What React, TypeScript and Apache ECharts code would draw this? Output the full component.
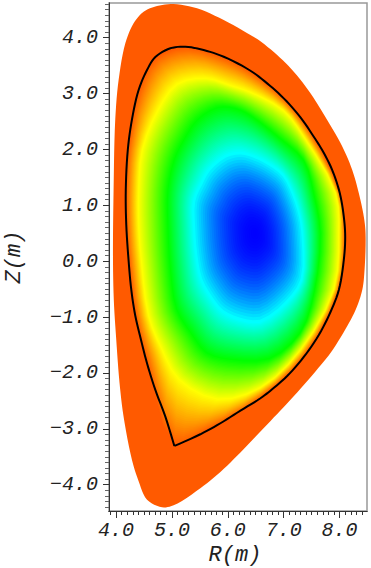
import React, { useEffect, useRef } from "react";
import * as echarts from "echarts";

const xMajor = [4, 5, 6, 7, 8];
const yMajor = [-4, -3, -2, -1, 0, 1, 2, 3, 4];
const xMin = 3.875, xMax = 8.49, yMin = -4.47, yMax = 4.62;

// Outer (orange) domain boundary
const outerBoundary = [
  [5.031,4.601],[4.734,4.565],[4.494,4.463],[4.315,4.256],[4.167,3.898],[4.047,3.242],[3.987,2.538],[3.957,1.274],[3.946,0.08],[3.961,-0.694],
  [4.005,-1.41],[4.064,-2.184],[4.136,-2.782],[4.286,-3.556],[4.405,-3.937],[4.555,-4.267],[4.824,-4.403],[5.031,-4.367],[5.509,-4.063],[5.868,-3.771],
  [6.226,-3.422],[6.584,-3.047],[6.942,-2.671],[7.241,-2.349],[7.568,-1.973],[7.837,-1.642],[8.106,-1.213],[8.285,-0.873],[8.405,-0.515],[8.446,-0.157],
  [8.464,0.499],[8.433,0.796],[8.344,1.215],[8.226,1.631],[8.052,2.043],[7.778,2.526],[7.479,3.004],[7.18,3.39],[6.883,3.689],[6.553,3.957],
  [6.405,4.047],[5.927,4.315],[5.45,4.524],
];

// Black separatrix, starting and ending on the X-point
const separatrix = [
  [5.044,-3.306],[4.883,-2.782],[4.704,-2.304],[4.555,-1.826],[4.448,-1.41],[4.346,-0.98],[4.274,-0.515],[4.226,0.004],[4.184,0.648],[4.175,1.274],
  [4.211,1.989],[4.286,2.538],[4.405,3.063],[4.555,3.42],[4.704,3.653],[4.972,3.809],[5.241,3.837],[5.568,3.778],[5.927,3.658],[6.405,3.408],
  [6.704,3.182],[7.001,2.914],[7.3,2.574],[7.538,2.227],[7.688,1.989],[7.868,1.631],[8.004,1.215],[8.075,0.796],[8.1,0.438],[8.075,0.021],
  [7.986,-0.515],[7.837,-0.909],[7.628,-1.32],[7.359,-1.714],[7.062,-2.054],[6.793,-2.292],[6.584,-2.453],[6.226,-2.674],[5.868,-2.9],[5.509,-3.097],[5.044,-3.306],
];

// Contour rings, with matching point order
const edgeRing = [[5.044,-3.306],[4.555,-1.826],[4.346,-0.98],[4.226,0.004],[4.184,0.648],[4.175,1.274],[4.211,1.989],[4.405,3.063],[4.704,3.653],[5.241,3.837],[5.927,3.658],[6.405,3.408],[7.001,2.914],[7.538,2.227],[8.004,1.215],[8.1,0.438],[7.986,-0.515],[7.359,-1.714],[6.584,-2.453],[5.509,-3.097]];
const yellowRing = [[5.12,-2.125],[4.8,-1.55],[4.578,-0.98],[4.448,0],[4.4,0.648],[4.4,1.274],[4.465,2.0],[4.75,2.72],[5.09,3.18],[5.6,3.28],[6.05,3.15],[6.405,3.03],[7.0,2.7],[7.36,2.23],[7.93,1.22],[7.99,0.5],[7.9,-0.5],[7.3,-1.59],[6.58,-2.27],[5.81,-2.48]];
const greenRing = [[5.62,-1.65],[5.33,-1.285],[5.08,-0.87],[4.97,-0.21],[4.92,0.65],[4.92,1.27],[5.03,1.81],[5.2,2.17],[5.45,2.54],[5.81,2.76],[6.14,2.74],[6.405,2.615],[6.94,2.2],[7.36,1.81],[7.54,1.22],[7.66,0.5],[7.55,-0.55],[7.3,-1.28],[6.75,-1.75],[6.05,-1.77]];
const cyanRing = [[5.9,-0.92],[5.7,-0.68],[5.51,-0.34],[5.42,0.1],[5.38,0.6],[5.38,1.09],[5.51,1.4],[5.65,1.65],[5.95,1.9],[6.22,1.96],[6.45,1.9],[6.72,1.77],[7.0,1.55],[7.17,1.215],[7.3,0.8],[7.35,0.4],[7.33,-0.34],[7.06,-0.75],[6.58,-1.1],[6.2,-1.06]];
const axisPoint = [6.49, 0.5];

const rings = [edgeRing, yellowRing, greenRing, cyanRing, edgeRing.map(() => axisPoint)];
const ringColors = [[255,90,0],[255,255,0],[0,255,0],[0,255,255],[0,0,255]];
const outerColor = "#ff5a00";
const stepsPerBand = 30; // drawing resolution of the colour shading only

const tickFont = { fontFamily: "'Liberation Mono', monospace", fontStyle: "italic" as const, fontSize: 20, color: "#222" };
const fmt = (v: number) => v.toFixed(1).replace("-", "\u2212");

function minorValues(min: number, max: number) {
  const out: number[] = [];
  for (let i = Math.ceil(min * 10); i <= max * 10; i++) if (i % 10 !== 0) out.push(i / 10);
  return out;
}

// Curve through pixel points (centripetal Catmull-Rom), closed or open
function curve(pts: number[][], closed: boolean, sub = 6) {
  const n = pts.length;
  const at = (i: number) => (closed ? pts[(i + n) % n] : pts[Math.max(0, Math.min(n - 1, i))]);
  const out: number[][] = [];
  const segs = closed ? n : n - 1;
  for (let i = 0; i < segs; i++) {
    const p0 = at(i - 1), p1 = at(i), p2 = at(i + 1), p3 = at(i + 2);
    const d = (a: number[], b: number[]) => Math.max(1e-3, Math.sqrt(Math.hypot(a[0] - b[0], a[1] - b[1])));
    const t0 = 0, t1 = t0 + d(p0, p1), t2 = t1 + d(p1, p2), t3 = t2 + d(p2, p3);
    for (let s = 0; s < sub; s++) {
      const t = t1 + ((t2 - t1) * s) / sub;
      const lerp = (a: number[], b: number[], ta: number, tb: number) =>
        [0, 1].map((k) => (a[k] * (tb - t) + b[k] * (t - ta)) / (tb - ta));
      const a1 = lerp(p0, p1, t0, t1), a2 = lerp(p1, p2, t1, t2), a3 = lerp(p2, p3, t2, t3);
      const b1 = lerp(a1, a2, t0, t2), b2 = lerp(a2, a3, t1, t3);
      out.push(lerp(b1, b2, t1, t2));
    }
  }
  if (!closed) out.push(pts[n - 1]);
  return out;
}

function renderField(_p: any, api: any) {
  const px = (pts: number[][]) => pts.map((p) => api.coord(p));
  const children: any[] = [
    { type: "polygon", shape: { points: curve(px(outerBoundary), true) }, style: { fill: outerColor } },
  ];
  for (let b = 0; b < rings.length - 1; b++) {
    for (let s = 0; s < stepsPerBand; s++) {
      const t = s / stepsPerBand;
      const ct = b === rings.length - 2 ? 1 - (1 - t) * (1 - t) : t;
      const pts = rings[b].map((p, i) => [p[0] + (rings[b + 1][i][0] - p[0]) * t, p[1] + (rings[b + 1][i][1] - p[1]) * t]);
      const c = ringColors[b].map((v, k) => Math.round(v + (ringColors[b + 1][k] - v) * ct));
      children.push({ type: "polygon", shape: { points: curve(px(pts), true, 3) }, style: { fill: `rgb(${c[0]},${c[1]},${c[2]})` } });
    }
  }
  children.push({ type: "polyline", shape: { points: curve(px(separatrix), false) }, style: { fill: "none", stroke: "#000", lineWidth: 2, lineJoin: "miter" } });
  return { type: "group", children };
}

export default function App() {
  const ref = useRef<HTMLDivElement>(null);
  useEffect(() => {
    const chart = echarts.init(ref.current!, undefined, { renderer: "svg" });
    const baseAxis = { axisLine: { show: true, onZero: false, lineStyle: { color: "#333", width: 1 } }, splitLine: { show: false } };
    chart.setOption({
      animation: false,
      backgroundColor: "#fff",
      grid: { left: 109, right: 4, top: 3, bottom: 57, outerBoundsMode: "none", containLabel: false, show: true, borderColor: "#999", borderWidth: 1.5, backgroundColor: "transparent" },
      xAxis: [
        {
          ...baseAxis, type: "value", min: xMin, max: xMax, position: "bottom",
          name: "R(m)", nameLocation: "middle", nameGap: 33, nameTextStyle: { ...tickFont, fontSize: 22, padding: [0, 6, 0, 0] },
          axisTick: { show: true, length: 7, customValues: xMajor, lineStyle: { color: "#333" } },
          axisLabel: { ...tickFont, margin: 9, customValues: xMajor, formatter: fmt },
        },
        {
          ...baseAxis, type: "value", min: xMin, max: xMax, position: "bottom",
          axisTick: { show: true, length: 4, customValues: minorValues(xMin, xMax), lineStyle: { color: "#333" } },
          axisLabel: { show: false },
        },
      ],
      yAxis: [
        {
          ...baseAxis, type: "value", min: yMin, max: yMax, position: "left",
          name: "Z(m)", nameLocation: "middle", nameGap: 84, nameTextStyle: { ...tickFont, fontSize: 22 },
          axisTick: { show: true, length: 6, customValues: yMajor, lineStyle: { color: "#333" } },
          axisLabel: { ...tickFont, margin: 11, customValues: yMajor, formatter: fmt },
        },
        {
          ...baseAxis, type: "value", min: yMin, max: yMax, position: "left",
          axisTick: { show: true, length: 4, customValues: minorValues(yMin, yMax), lineStyle: { color: "#666" } },
          axisLabel: { show: false },
        },
      ],
      series: [
        { type: "custom", coordinateSystem: "cartesian2d", renderItem: renderField, data: [[xMin, yMin]], clip: false, silent: true, z: 1 },
      ],
    });
    return () => chart.dispose();
  }, []);
  return <div ref={ref} style={{ position: "fixed", left: 0, top: 0, width: 371, height: 568 }} />;
}
